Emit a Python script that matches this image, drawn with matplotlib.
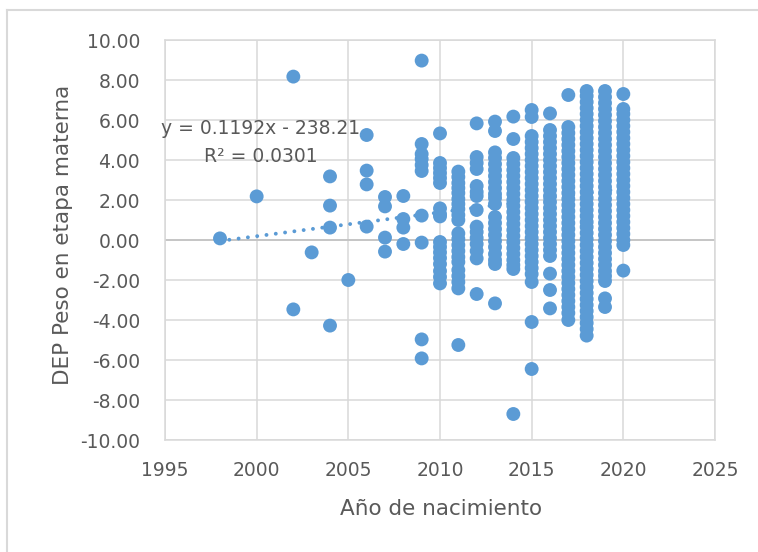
import matplotlib
matplotlib.use("Agg")
import matplotlib.pyplot as plt
from matplotlib.lines import Line2D
import numpy as np

# ---------------- data ----------------
v1998 = [0.08]
v2000 = [2.18]
v2002 = [8.17, -3.47]
v2003 = [-0.62]
v2004 = [3.18, 1.72, 0.62, -4.28]
v2005 = [-2.0]
v2006 = [5.25, 3.47, 2.78, 0.67]
v2007 = [2.15, 1.68, 0.12, -0.58]
v2008 = [2.2, 1.05, 0.62, -0.2]
v2009 = [8.97, 4.8, 4.3, 4.05, 3.75, 3.45, 1.22, -0.13, -4.97, -5.92]
v2010 = [5.33, 3.85, 3.6, 3.35, 3.1, 2.85, 1.58, 1.3, 1.18, -0.1, -0.35,
         -0.62, -0.9, -1.2, -1.55, -1.85, -2.17]
v2011 = [3.42, 3.15, 2.85, 2.6, 2.35, 2.05, 1.8, 1.55, 1.25, 1.0, 0.33,
         0.05, -0.25, -0.55, -0.85, -1.1, -1.5, -1.8, -2.1, -2.42, -5.25]
v2012 = [5.83, 4.15, 3.85, 3.55, 2.7, 2.4, 2.2, 1.5, 0.67, 0.4, 0.1,
         -0.2, -0.55, -0.92, -2.7]
v2013 = [5.92, 5.45, 4.38, 4.1, 3.8, 3.5, 3.2, 2.9, 2.6, 2.3, 2.1, 1.8,
         1.15, 0.85, 0.55, 0.25, -0.05, -0.35, -0.7, -1.0, -1.2, -3.17]
v2014 = [6.17, 5.05, 4.1, 3.8, 3.5, 3.2, 2.9, 2.6, 2.3, 2.0, 1.7, 1.4,
         1.1, 0.8, 0.5, 0.2, -0.1, -0.4, -0.7, -1.0, -1.25, -1.45, -8.7]
v2015 = [6.5, 6.15, 5.2, 4.9, 4.6, 4.3, 4.0, 3.7, 3.4, 3.1, 2.8, 2.5,
         2.2, 1.9, 1.6, 1.3, 1.0, 0.7, 0.4, 0.1, -0.2, -0.5, -0.8, -1.1,
         -1.4, -1.7, -2.1, -4.1, -6.45]
v2016 = [6.33, 5.5, 5.2, 4.9, 4.6, 4.3, 4.0, 3.7, 3.4, 3.1, 2.8, 2.5,
         2.2, 1.9, 1.6, 1.3, 1.0, 0.7, 0.4, 0.1, -0.2, -0.5, -0.8, -1.68,
         -2.5, -3.42]
v2017 = [7.25, 5.65, 5.35, 5.05, 4.75, 4.45, 4.15, 3.85, 3.55, 3.25, 2.95,
         2.65, 2.35, 2.05, 1.75, 1.45, 1.15, 0.85, 0.55, 0.25, -0.05,
         -0.35, -0.65, -0.95, -1.25, -1.55, -1.85, -2.15, -2.45, -2.75,
         -3.05, -3.35, -3.65, -4.0]
v2018 = [7.45, 7.2, 6.9, 6.6, 6.3, 6.0, 5.7, 5.4, 5.1, 4.8, 4.5, 4.2,
         3.9, 3.6, 3.3, 3.0, 2.7, 2.4, 2.1, 1.8, 1.5, 1.2, 0.9, 0.65,
         0.35, 0.05, -0.25, -0.55, -0.85, -1.15, -1.45, -1.75, -2.05,
         -2.35, -2.65, -2.95, -3.25, -3.55, -3.85, -4.15, -4.45, -4.78]
v2019 = [7.45, 7.15, 6.85, 6.55, 6.25, 5.95, 5.65, 5.35, 5.05, 4.75,
         4.45, 4.15, 3.85, 3.55, 3.25, 2.95, 2.65, 2.35, 2.05, 1.75, 1.45,
         1.15, 0.85, 0.55, 0.25, -0.05, -0.35, -0.65, -0.95, -1.25, -1.55,
         -1.8, -2.05, -2.92, -3.35]
v2020 = [7.3, 6.55, 6.3, 6.0, 5.7, 5.4, 5.1, 4.8, 4.5, 4.2, 3.9, 3.6,
         3.3, 3.0, 2.7, 2.4, 2.1, 1.8, 1.5, 1.2, 0.9, 0.6, 0.3, 0.0,
         -0.25, -1.53]

groups = {1998: v1998, 2000: v2000, 2002: v2002, 2003: v2003, 2004: v2004,
          2005: v2005, 2006: v2006, 2007: v2007, 2008: v2008, 2009: v2009,
          2010: v2010, 2011: v2011, 2012: v2012, 2013: v2013, 2014: v2014,
          2015: v2015, 2016: v2016, 2017: v2017, 2018: v2018, 2019: v2019,
          2020: v2020}

slope = 0.1192
intercept = -238.21
r2 = 0.0301
trend_x = [1998, 2020]

x_ticks = [1995, 2000, 2005, 2010, 2015, 2020, 2025]
y_ticks = [-10, -8, -6, -4, -2, 0, 2, 4, 6, 8, 10]

x_label = "Año de nacimiento"
y_label = "DEP Peso en etapa materna"

# ---------------- style ----------------
W, H = 758, 552
DPI = 100
BLUE = "#5B9BD5"
GRID = "#D9D9D9"
TXT = "#595959"
plt.rcParams['font.family'] = ['DejaVu Sans']

fig = plt.figure(figsize=(W / DPI, H / DPI), dpi=DPI)
fig.patch.set_facecolor("white")

# chart outer border (top and left visible)
fig.add_artist(Line2D([7 / W, 7 / W], [0, 1 - 10 / H], color=GRID, lw=1.5,
                      transform=fig.transFigure))
fig.add_artist(Line2D([7 / W, 1], [1 - 10 / H, 1 - 10 / H], color=GRID, lw=1.5,
                      transform=fig.transFigure))

L, R, T, B = 165, 715, 40, 440
ax = fig.add_axes([L / W, 1 - B / H, (R - L) / W, (B - T) / H])

xs, ys = [], []
for yr, vals in groups.items():
    xs.extend([yr] * len(vals))
    ys.extend(vals)

ax.scatter(xs, ys, s=100, color=BLUE, edgecolors="none", zorder=3)

tx = np.array(trend_x, dtype=float)
ax.plot(tx, slope * tx + intercept, color=BLUE, lw=2.8,
        linestyle=(0, (0.01, 2.4)), dash_capstyle="round", zorder=4)

ax.set_xlim(1995, 2025)
ax.set_ylim(-10, 10)
ax.set_xticks(x_ticks)
ax.set_yticks(y_ticks)
ax.set_xticklabels([str(v) for v in x_ticks])
ax.set_yticklabels([f"{v:.2f}" for v in y_ticks])
ax.grid(True, color=GRID, lw=1.1, zorder=0)
ax.set_axisbelow(True)
ax.axhline(0, color="#BFBFBF", lw=1.1, zorder=1)
for sp in ax.spines.values():
    sp.set_color(GRID)
    sp.set_linewidth(1.1)
ax.tick_params(axis="both", length=0, labelsize=13.5, colors=TXT)
ax.tick_params(axis="y", pad=18)
ax.tick_params(axis="x", pad=15)

ax.set_xlabel(x_label, fontsize=15.5, color=TXT)
ax.set_ylabel(y_label, fontsize=15.5, color=TXT)
ax.xaxis.set_label_coords((441 - L) / (R - L), (B - 499) / (B - T))
ax.yaxis.set_label_coords((73 - L) / (R - L), (B - 235) / (B - T))

ax.text(2000.2, 5.6, f"y = {slope}x - {abs(intercept)}", ha="center",
        va="center", fontsize=13.5, color=TXT, zorder=5)
ax.text(2000.2, 4.2, f"R² = {r2}", ha="center", va="center",
        fontsize=13.5, color=TXT, zorder=5)

fig.savefig("out.png", dpi=DPI, facecolor="white")
